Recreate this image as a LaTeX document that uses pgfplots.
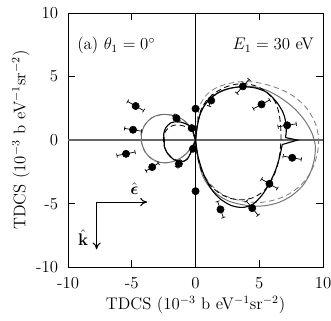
\documentclass[12pt,border=0pt]{standalone}
\usepackage{amsmath}
\usepackage{pgfplots}
\pgfplotsset{compat=1.18}
\usepgfplotslibrary{polar}
\usetikzlibrary{arrows.meta}
\begin{document}
\begin{tikzpicture}
\begin{axis}[
  scale only axis, width=182pt, height=181.4pt,
  xmin=-10, xmax=10, ymin=-10, ymax=10,
  xtick={-10,-5,0,5,10}, ytick={-10,-5,0,5,10},
  xticklabels={-10,-5,0,5,10}, yticklabels={-10,-5,0,5,10},
  tick align=inside, major tick length=5pt,
  tick style={black, line width=0.5pt},
  xticklabel style={yshift=-3pt},
  yticklabel style={xshift=-3pt},
  xlabel={TDCS ($10^{-3}$ b eV$^{-1}$sr$^{-2}$)},
  ylabel={TDCS ($10^{-3}$ b eV$^{-1}$sr$^{-2}$)},
  xlabel style={at={(axis description cs:0.5,-0.15)}, anchor=center},
  ylabel style={at={(axis description cs:-0.185,0.5)}, anchor=center},
  axis line style={black, line width=0.6pt},
  clip=false,
]
% axes through origin
\draw[black!60, line width=0.9pt] (axis cs:-10,0) -- (axis cs:10,0);
\draw[black, line width=0.5pt] (axis cs:0,-10) -- (axis cs:0,10);

% gray dashed
\addplot[gray, line width=0.6pt, dash pattern=on 4pt off 2.5pt, smooth, tension=0.5] coordinates {
(0,0) (0.1,1.3) (0.3,2.6) (0.8,3.5) (1.6,4.1) (2.6,4.45) (3.6,4.6) (4.7,4.55) (5.8,4.3) (6.9,3.9) (7.9,3.3) (8.8,2.4) (9.4,1.3) (9.65,0.2) (9.6,-0.8) (9.35,-1.8) (8.9,-2.75) (8.25,-3.55) (7.4,-4.2) (6.4,-4.65) (5.2,-4.9) (4.0,-4.85) (2.9,-4.6) (2.0,-4.2) (1.2,-3.5) (0.6,-2.6) (0.2,-1.4) (0,0)};
\addplot[gray, line width=0.6pt, dash pattern=on 4pt off 2.5pt, smooth, tension=0.5] coordinates {
(0,0) (-0.4,0.95) (-1.0,1.6) (-1.8,1.95) (-2.7,2.0) (-3.5,1.7) (-4.05,1.1) (-4.3,0.35) (-4.22,-0.35) (-3.9,-1.05) (-3.3,-1.58) (-2.55,-1.8) (-1.75,-1.68) (-0.95,-1.25) (-0.35,-0.6) (0,0)};

% gray solid
\addplot[black!55, line width=0.7pt, smooth, tension=0.5] coordinates {
(0,0) (0.12,1.1) (0.4,2.2) (0.9,3.0) (1.6,3.6) (2.5,4.0) (3.5,4.2) (4.5,4.2) (5.5,3.95) (6.4,3.5) (7.2,2.95) (7.84,2.4) (8.6,1.5) (9.15,0.5) (9.4,-0.5) (9.3,-1.6) (8.95,-2.7) (8.35,-3.65) (7.5,-4.4) (6.5,-4.92) (5.4,-5.17) (4.4,-5.18) (3.5,-5.05) (2.6,-4.8) (1.8,-4.35) (1.1,-3.7) (0.55,-2.8) (0.2,-1.5) (0,0)};
\addplot[black!55, line width=0.7pt, smooth, tension=0.5] coordinates {
(0,0) (-0.35,0.9) (-0.9,1.55) (-1.7,1.92) (-2.6,2.02) (-3.4,1.78) (-4.0,1.15) (-4.25,0.4) (-4.2,-0.3) (-3.9,-1.0) (-3.3,-1.55) (-2.6,-1.78) (-1.8,-1.7) (-1.0,-1.3) (-0.4,-0.7) (0,0)};

% black dashed
\addplot[black, line width=0.6pt, dash pattern=on 4pt off 2.5pt, smooth, tension=0.5] coordinates {
(0,0) (0.15,1.2) (0.4,2.3) (0.85,3.1) (1.5,3.7) (2.3,4.15) (3.2,4.4) (4.2,4.4) (5.1,4.1) (5.75,3.6) (6.25,3.0) (6.55,2.1) (6.68,1.0) (6.7,0) (6.6,-1.1) (6.4,-2.1) (6.0,-3.1) (5.4,-3.95) (4.6,-4.5) (3.7,-4.7) (2.8,-4.6) (1.9,-4.2) (1.1,-3.5) (0.5,-2.5) (0.15,-1.3) (0,0)};
\addplot[black, line width=0.6pt, dash pattern=on 4pt off 2.5pt, smooth, tension=0.5] coordinates {
(0,0) (-0.35,0.8) (-0.9,1.1) (-1.5,1.2) (-2.0,1.05) (-2.35,0.7) (-2.5,0.25) (-2.5,-0.3) (-2.3,-0.85) (-1.9,-1.35) (-1.35,-1.65) (-0.8,-1.6) (-0.4,-1.05) (0,0)};

% black solid
\addplot[black, line width=0.8pt, smooth, tension=0.5] coordinates {
(0,0) (0.12,1.0) (0.35,2.0) (0.75,2.8) (1.3,3.4) (2.0,3.85) (2.8,4.1) (3.7,4.2) (4.7,4.1) (5.6,3.75) (6.35,3.0) (6.85,2.2) (7.06,1.5) (7.12,0.7) (7.05,0.2)};
\addplot[black, line width=0.8pt] coordinates {(7.05,0.2) (8.0,0) (6.8,-0.35)};
\addplot[black, line width=0.8pt, smooth, tension=0.5] coordinates {
(6.8,-0.35) (6.6,-1.3) (6.3,-2.3) (5.8,-3.4) (5.2,-4.35) (4.5,-5.05) (3.7,-5.3) (2.8,-5.15) (1.9,-4.6) (1.2,-3.8) (0.6,-2.6) (0.2,-1.3) (0,0)};
\addplot[black, line width=0.8pt, smooth, tension=0.5] coordinates {
(0,0) (-0.3,0.95) (-0.8,1.3) (-1.4,1.45) (-1.95,1.35) (-2.35,0.95) (-2.5,0.45) (-2.45,0.0) (-2.45,-0.5) (-2.2,-1.05) (-1.75,-1.5) (-1.2,-1.72) (-0.7,-1.55) (-0.35,-0.95) (0,0)};

% error bars (radial)
\pgfplotsset{errbar/.style={black, line width=0.5pt, data cs=polar, {Bar[width=3pt]}-{Bar[width=3pt]}, forget plot}}
\addplot[errbar] coordinates {(150.3,4.66) (150.3,6.16)};
\addplot[errbar] coordinates {(170.6,4.27) (170.6,5.67)};
\addplot[errbar] coordinates {(191.2,4.81) (191.2,6.31)};
\addplot[errbar] coordinates {(212,3.41) (212,4.61)};
\addplot[errbar] coordinates {(235,1.93) (235,2.63)};
\addplot[errbar] coordinates {(131,1.94) (131,2.64)};
\addplot[errbar] coordinates {(108,0.79) (108,1.19)};
\addplot[errbar] coordinates {(253.6,0.56) (253.6,0.86)};
\addplot[errbar] coordinates {(68.5,2.85) (68.5,3.85)};
\addplot[errbar] coordinates {(48.7,4.88) (48.7,6.38)};
\addplot[errbar] coordinates {(28.5,5.14) (28.5,6.64)};
\addplot[errbar] coordinates {(9.2,6.53) (9.2,8.03)};
\addplot[errbar] coordinates {(-10.4,6.96) (-10.4,8.46)};
\addplot[errbar] coordinates {(-30.7,5.99) (-30.7,7.49)};
\addplot[errbar] coordinates {(-50.3,6.21) (-50.3,7.71)};
\addplot[errbar] coordinates {(-70.3,5.10) (-70.3,6.50)};

% data points
\addplot[only marks, mark=*, mark size=2.6pt, black, data cs=polar] coordinates {
(150.3,5.41) (170.6,4.97) (191.2,5.56) (212,4.01) (235,2.28) (131,2.29) (108,0.99) (90,2.47) (253.6,0.71)
(68.5,3.35) (48.7,5.63) (28.5,5.89) (9.2,7.28) (-10.4,7.71) (-30.7,6.74) (-50.3,6.96) (-70.3,5.80) (270,4.02)};

% labels
\node[anchor=west, inner sep=0pt] at (axis cs:-9.3,7.45) {(a) $\theta_1 = 0^\circ$};
\node[anchor=east, inner sep=0pt] at (axis cs:9.3,7.45) {$E_1 = 30$ eV};

% polarisation arrows
\draw[black, line width=0.8pt, -{To[length=5pt,width=6pt]}] (axis cs:-7.76,-4.88) -- (axis cs:-3.8,-4.88);
\draw[black, line width=0.8pt, -{To[length=5pt,width=6pt]}] (axis cs:-7.76,-4.88) -- (axis cs:-7.76,-8.6);
\node[inner sep=1pt] at (axis cs:-4.8,-3.85) {$\hat{\boldsymbol{\epsilon}}$};
\node[anchor=east, inner sep=0pt] at (axis cs:-8.4,-7.7) {$\hat{\mathbf{k}}$};
\end{axis}
\pgfresetboundingbox
\path[use as bounding box] ([xshift=-48.6pt,yshift=-37.9pt]current axis.south west) rectangle ([xshift=5.7pt,yshift=9.3pt]current axis.north east);
\end{tikzpicture}
\end{document}
